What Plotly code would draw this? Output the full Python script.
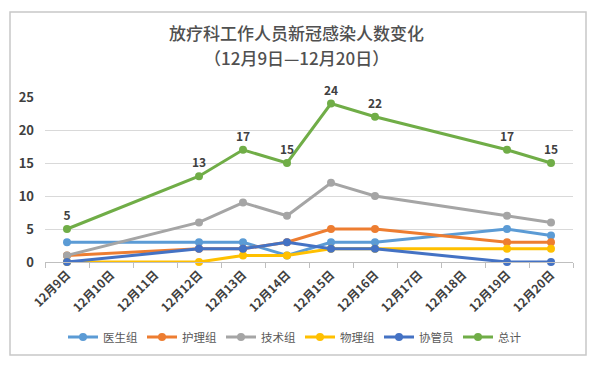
import plotly.graph_objects as go

days = ["12月9日", "12月10日", "12月11日", "12月12日", "12月13日", "12月14日",
        "12月15日", "12月16日", "12月17日", "12月18日", "12月19日", "12月20日"]
N = None
doctors = [3, N, N, 3, 3, 1, 3, 3, N, N, 5, 4]
nurses = [1, N, N, 2, 2, 3, 5, 5, N, N, 3, 3]
techs = [1, N, N, 6, 9, 7, 12, 10, N, N, 7, 6]
physics = [0, N, N, 0, 1, 1, 2, 2, N, N, 2, 2]
assist = [0, N, N, 2, 2, 3, 2, 2, N, N, 0, 0]
total = [5, N, N, 13, 17, 15, 24, 22, N, N, 17, 15]
title_lines = ["放疗科工作人员新冠感染人数变化", "（12月9日—12月20日）"]

series = [
    ("医生组", doctors, "#5B9BD5"),
    ("护理组", nurses, "#ED7D31"),
    ("技术组", techs, "#A5A5A5"),
    ("物理组", physics, "#FFC000"),
    ("协管员", assist, "#4472C4"),
    ("总计", total, "#70AD47"),
]

FONT = "Noto Sans CJK SC"
fig = go.Figure()
for name, vals, color in series:
    is_total = name == "总计"
    fig.add_trace(go.Scatter(
        x=days, y=vals, name=name, mode="lines+markers+text" if is_total else "lines+markers",
        connectgaps=True, cliponaxis=False,
        line=dict(color=color, width=3),
        marker=dict(color=color, size=8),
        text=[("" if v is None else str(v)) for v in vals] if is_total else None,
        textposition="top center",
        textfont=dict(family=FONT, size=12, color="#404040", weight="bold"),
    ))

# page body has an 8px margin; work in figure coordinates
OFF = 8
L, R, T, B = 45 - OFF, 573 - OFF, 97 - OFF, 262 - OFF
W, H = 600 - OFF, 366 - OFF
pw, ph = R - L, B - T

def py(y):  # reference pixel y -> paper y
    return (B - (y - OFF)) / ph

def px(x):
    return ((x - OFF) - L) / pw

annotations = [
    dict(text=title_lines[0], x=px(296), y=py(33), xref="paper", yref="paper",
         xanchor="center", yanchor="middle", showarrow=False,
         font=dict(family=FONT, size=17, color="#505050", weight=500)),
    dict(text=title_lines[1], x=px(296), y=py(57), xref="paper", yref="paper",
         xanchor="center", yanchor="middle", showarrow=False,
         font=dict(family=FONT, size=17, color="#505050", weight=500)),
]

fig.update_layout(
    width=W, height=H,
    margin=dict(l=L, r=W - R, t=T, b=H - B, autoexpand=False),
    paper_bgcolor="white", plot_bgcolor="white",
    font=dict(family=FONT, color="#595959"),
    showlegend=True,
    legend=dict(orientation="h", x=px(300), xanchor="center", y=py(337), yanchor="middle",
                font=dict(family=FONT, size=11.5, color="#595959"),
                itemwidth=30, tracegroupgap=0, entrywidth=34),
    xaxis=dict(type="category", categoryorder="array", categoryarray=days,
               tickangle=-45, tickfont=dict(family=FONT, size=12, color="#404040", weight="bold"),
               showgrid=False, showline=True, linecolor="#BFBFBF", linewidth=1,
               ticks="outside", tickson="boundaries", ticklen=5, tickcolor="#BFBFBF",
               range=[-0.5, 11.5], fixedrange=True, automargin=False),
    yaxis=dict(range=[0, 25], dtick=5, showgrid=True, gridcolor="#D9D9D9", gridwidth=1,
               zeroline=False, showline=False,
               tickfont=dict(family=FONT, size=13, color="#404040", weight="bold"),
               ticklabelstandoff=10, fixedrange=True, automargin=False),
    annotations=annotations,
    shapes=[dict(type="rect", xref="paper", yref="paper",
                 x0=px(10), x1=px(586), y0=py(355), y1=py(12),
                 line=dict(color="#C8C8C8", width=1.5), fillcolor="rgba(0,0,0,0)", layer="above")],
)
fig.write_html("out.html")
